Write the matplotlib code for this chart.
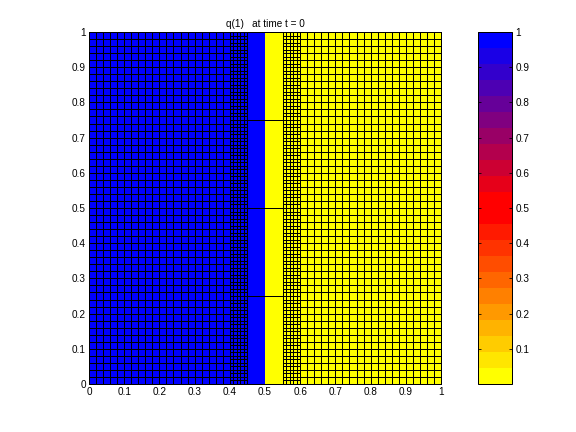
import numpy as np
import matplotlib
matplotlib.use("Agg")
import matplotlib.pyplot as plt
from matplotlib.colors import ListedColormap, Normalize
from matplotlib.patches import Rectangle

plt.rcParams['font.family'] = ['Liberation Sans', 'DejaVu Sans']

# ---- data ----
title_text = "q(1)   at time t = 0"
q_left = 1.0          # value left of the interface
q_right = 0.0         # value right of the interface
interface_x = 0.5

# AMR levels: (x0, x1, y0, y1, dx)
level1_patches = [(0.0, 1.0, 0.0, 1.0, 0.02)]
level2_patches = [(0.40, 0.60, 0.0, 1.0, 0.01)]
level3_patches = [(0.45, 0.55, 0.00, 0.25, 0.005),
                  (0.45, 0.55, 0.25, 0.50, 0.005),
                  (0.45, 0.55, 0.50, 0.75, 0.005),
                  (0.45, 0.55, 0.75, 1.00, 0.005)]

cbar_ticks = [0.1, 0.2, 0.3, 0.4, 0.5, 0.6, 0.7, 0.8, 0.9, 1.0]
cbar_ticklabels = ['0.1', '0.2', '0.3', '0.4', '0.5', '0.6', '0.7', '0.8', '0.9', '1']
axis_ticks = [0, 0.1, 0.2, 0.3, 0.4, 0.5, 0.6, 0.7, 0.8, 0.9, 1]
axis_ticklabels = ['0', '0.1', '0.2', '0.3', '0.4', '0.5', '0.6', '0.7', '0.8', '0.9', '1']

# colormap: yellow -> red (11 levels), red -> blue (11 levels)
green_steps = [1.0, 0.9, 0.8, 0.7, 0.6, 0.5, 0.4, 0.3, 0.2, 0.1, 0.0]
red_steps = [1.0, 0.9, 0.8, 0.7, 0.6, 0.5, 0.4, 0.3, 0.2, 0.1, 0.0]
yr = [(1.0, g, 0.0) for g in green_steps]
rb = [(r, 0.0, 1.0 - r) for r in red_steps]
cmap = ListedColormap(yr + rb)
norm = Normalize(vmin=0.0, vmax=1.0)

fig = plt.figure(figsize=(8, 6), dpi=72)
ax = fig.add_axes([89/576, 48/432, 352/576, 352/432])

LW = 1.0

def draw_patch(p, grid, level):
    x0, x1, y0, y1, dx = p
    nx = int(round((x1 - x0) / dx))
    ny = int(round((y1 - y0) / dx))
    xe = np.linspace(x0, x1, nx + 1)
    ye = np.linspace(y0, y1, ny + 1)
    xc = 0.5 * (xe[:-1] + xe[1:])
    q = np.where(xc < interface_x, q_left, q_right)
    Q = np.tile(q, (ny, 1))
    zm = 1 + 2 * level
    ax.pcolormesh(xe, ye, Q, cmap=cmap, norm=norm, edgecolors='none',
                  antialiased=False, zorder=zm)
    if grid:
        ax.vlines(xe, y0, y1, colors='k', linewidth=LW, antialiased=False, zorder=zm + 1)
        ax.hlines(ye, x0, x1, colors='k', linewidth=LW, antialiased=False, zorder=zm + 1)
    else:
        ax.add_patch(Rectangle((x0, y0), x1 - x0, y1 - y0, fill=False,
                               edgecolor='k', linewidth=LW, antialiased=False,
                               zorder=zm + 1))

for p in level1_patches:
    draw_patch(p, True, 0)
for p in level2_patches:
    draw_patch(p, True, 1)
for p in level3_patches:
    draw_patch(p, False, 2)

ax.set_xlim(0, 1)
ax.set_ylim(0, 1)
ax.set_xticks(axis_ticks)
ax.set_xticklabels(axis_ticklabels)
ax.set_yticks(axis_ticks)
ax.set_yticklabels(axis_ticklabels)
ax.tick_params(direction='in', top=True, right=True, labelsize=10, length=4, pad=3)
for s in ax.spines.values():
    s.set_linewidth(1.0)
    s.set_zorder(20)
ax.set_title(title_text, fontsize=10, pad=5)

cax = fig.add_axes([478/576, 48/432, 34/576, 352/432])
sm = matplotlib.cm.ScalarMappable(norm=norm, cmap=cmap)
cb = fig.colorbar(sm, cax=cax, ticks=cbar_ticks)
cb.ax.set_yticklabels(cbar_ticklabels)
cb.ax.tick_params(direction='in', left=True, right=True, labelsize=10, length=3)
cb.outline.set_linewidth(1.0)

fig.savefig("out.png", dpi=72)
